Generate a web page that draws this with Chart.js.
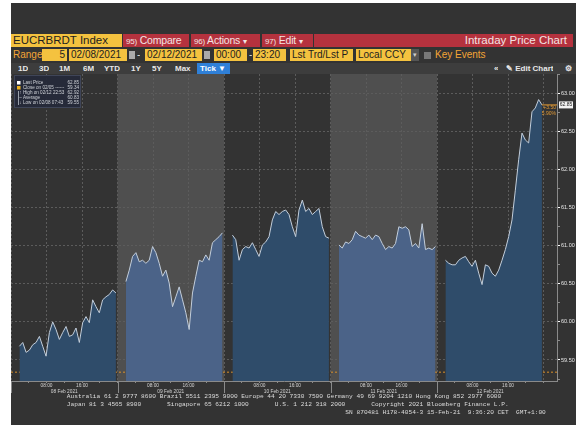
<!DOCTYPE html>
<html>
<head>
<meta charset="utf-8">
<script src="https://cdn.jsdelivr.net/npm/chart.js@4.4.1/dist/chart.umd.min.js"></script>
<style>
body{margin:0;background:#fff;width:576px;height:427px;overflow:hidden;position:relative;font-family:"Liberation Sans Narrow","Liberation Sans",Arial,sans-serif}
.a{position:absolute;box-sizing:border-box;white-space:nowrap;overflow:hidden}
#frame{left:11px;top:3px;width:565px;height:422px;background:#333}
.r1{top:34px;height:13px;line-height:13px;font-size:11.5px}
.red{background:#b5323e;color:#f3e4e4;padding-left:3px;font-size:10.5px;letter-spacing:-0.2px}
.red small{font-size:8px}
.r2{top:49px;height:12px;line-height:12px;font-size:10px}
.fld{background:#f4c23f;color:#1e1e1e;padding:0 2px}
.org{color:#f3a536}
.r3{top:63px;height:11px;line-height:11px;font-size:8px;font-weight:bold;color:#e8e8e8}
#foot{left:0;top:393px;width:576px;font-family:"Liberation Mono","DejaVu Sans Mono",monospace;font-size:6.2px;line-height:8px;color:#dcdcdc;white-space:pre}
#chartbox{position:absolute;left:11px;top:74px;width:565px;height:321px}
</style>
</head>
<body>
<div class="a" id="frame"></div>

<div class="a r1 fld" style="left:11px;width:111px;padding-left:2px">EUCRBRDT Index</div>
<div class="a r1 red" style="left:123px;width:66px"><small>95)</small> Compare</div>
<div class="a r1 red" style="left:191px;width:69px"><small>96)</small> Actions <small>▾</small></div>
<div class="a r1 red" style="left:262px;width:51px"><small>97)</small> Edit <small>▾</small></div>
<div class="a r1 red" style="left:314px;width:259px;text-align:right;padding-right:6px;font-size:11.5px;letter-spacing:0">Intraday Price Chart</div>

<div class="a r2 org" style="left:13px">Range</div>
<div class="a r2 fld" style="left:42px;width:25px;text-align:right">5</div>
<div class="a r2 fld" style="left:69px;width:58px">02/08/2021</div>
<div class="a r2" style="left:129px;top:51px;width:6px;height:8px;background:#aaa"></div>
<div class="a r2" style="left:137px;color:#ddd">-</div>
<div class="a r2 fld" style="left:145px;width:57px">02/12/2021</div>
<div class="a r2" style="left:204px;top:51px;width:6px;height:8px;background:#aaa"></div>
<div class="a r2 fld" style="left:214px;width:33px">00:00</div>
<div class="a r2" style="left:249px;color:#ddd">-</div>
<div class="a r2 fld" style="left:253px;width:33px">23:20</div>
<div class="a r2 fld" style="left:290px;width:63px">Lst Trd/Lst P</div>
<div class="a r2 fld" style="left:356px;width:55px">Local CCY</div>
<div class="a r2" style="left:411px;width:8px;background:#555;color:#ccc;font-size:7px;text-align:center">▾</div>
<div class="a r2" style="left:424px;top:52px;width:7px;height:7px;background:#777"></div>
<div class="a r2 org" style="left:435px">Key Events</div>

<div class="a" style="left:11px;top:63px;width:565px;height:11px;background:#3d3d3d"></div>
<div class="a r3" style="left:18px">1D</div>
<div class="a r3" style="left:39px">3D</div>
<div class="a r3" style="left:59px">1M</div>
<div class="a r3" style="left:83px">6M</div>
<div class="a r3" style="left:104px">YTD</div>
<div class="a r3" style="left:131px">1Y</div>
<div class="a r3" style="left:152px">5Y</div>
<div class="a r3" style="left:175px">Max</div>
<div class="a r3" style="left:197px;width:33px;background:#2f80d8;color:#fff;padding-left:3px">Tick ▼</div>
<div class="a r3" style="left:494px">«</div>
<div class="a r3" style="left:506px">✎ Edit Chart</div>
<div class="a r3" style="left:565px">⚙</div>

<div id="chartbox"><canvas id="myChart"></canvas></div>

<div class="a" id="foot">                  Australia 61 2 9777 8600 Brazil 5511 2395 9000 Europe 44 20 7330 7500 Germany 49 69 9204 1210 Hong Kong 852 2977 6000
                  Japan 81 3 4565 8900       Singapore 65 6212 1000       U.S. 1 212 318 2000       Copyright 2021 Bloomberg Finance L.P.
                                                                                             SN 870481 H178-4054-3 15-Feb-21  9:36:20 CET  GMT+1:00</div>

<script>
// 日付ラベル
var days = ['08 Feb 2021', '09 Feb 2021', '10 Feb 2021', '11 Feb 2021', '12 Feb 2021'];

// 各日の価格（01:54 から 45分おきに読み取り）
var feb08 = [59.68, 59.73, 59.60, 59.63, 59.70, 59.73, 59.81, 59.68, 59.55, 59.86, 60.00, 59.90, 59.77, 59.86, 59.94,
             59.81, 59.83, 59.92, 59.73, 59.99, 60.07, 59.99, 60.29, 60.20, 60.12, 60.29, 60.33, 60.36, 60.42, 60.38];
var feb09 = [60.53, 60.68, 60.86, 60.91, 60.79, 60.81, 60.77, 60.81, 60.99, 60.91, 60.77, 60.60, 60.68, 60.51, 60.20,
             60.33, 60.46, 60.29, 60.12, 59.90, 60.38, 60.60, 60.81, 60.79, 60.88, 60.81, 61.04, 61.08, 61.12, 61.17];
var feb10 = [61.14, 61.08, 60.81, 60.95, 60.99, 60.97, 61.04, 60.95, 60.86, 61.01, 61.05, 61.12, 61.34, 61.45, 61.41,
             61.45, 61.47, 61.41, 61.25, 61.12, 61.47, 61.60, 61.45, 61.49, 61.41, 61.45, 61.49, 61.25, 61.12, 61.10];
var feb11 = [61.01, 60.97, 61.05, 61.03, 61.08, 61.19, 61.14, 61.12, 61.10, 61.14, 61.08, 61.14, 61.12, 61.03, 60.95,
             60.99, 60.97, 61.03, 61.25, 61.23, 61.25, 61.21, 60.99, 61.03, 60.97, 61.29, 60.95, 60.97, 60.95, 60.99];
var feb12 = [60.81, 60.77, 60.75, 60.75, 60.81, 60.84, 60.86, 60.79, 60.73, 60.81, 60.64, 60.49, 60.75, 60.73, 60.64,
             60.60, 60.68, 60.81, 60.95, 61.12, 61.34, 61.73, 62.13, 62.48, 62.39, 62.35, 62.76, 62.81, 62.92, 62.85];
var sampleStart = 1.9;   // 時
var sampleStep = 0.75;   // 時

// 凡例の値
var lastPrice = 62.85;
var prevClose = 59.34;
var highPrice = 62.92;
var avgPrice = 60.83;
var lowPrice = 59.55;
var netChange = '+3.50';
var pctChange = '5.90%';

// 軸の範囲（時間は 02/08 00:00 からの経過時間）
var xMax = 123.04;
var yMin = 59.224;
var yMax = 63.256;

var series = [feb08, feb09, feb10, feb11, feb12];
var fillColors = ['#2f4c6a', '#4b6388'];

var datasets = series.map(function(vals, d) {
  return {
    data: vals.map(function(v, i) { return {x: d * 24 + sampleStart + i * sampleStep, y: v}; }),
    borderColor: '#c3cedb',
    borderWidth: 1,
    backgroundColor: fillColors[d % 2],
    fill: 'start',
    pointRadius: 0,
    tension: 0
  };
});
// 前日終値ライン
datasets.push({
  data: [{x: 0, y: prevClose}, {x: xMax, y: prevClose}],
  borderColor: '#d98f2b',
  borderWidth: 1,
  borderDash: [2, 2],
  pointRadius: 0,
  fill: false
});

function isMajor(v) {
  return Math.abs(v * 2 - Math.round(v * 2)) < 1e-6;
}

function noPad(s) {
  s.paddingTop = 0; s.paddingBottom = 0; s.paddingLeft = 0; s.paddingRight = 0;
}

// 背景の帯と注記を描くプラグイン
var bbgPlugin = {
  id: 'bbg',
  beforeDraw: function(chart) {
    var c = chart.ctx, a = chart.chartArea, xs = chart.scales.x;
    c.save();
    c.fillStyle = '#4f4f4f';
    [1, 3].forEach(function(d) {
      var x0 = xs.getPixelForValue(d * 24), x1 = xs.getPixelForValue(d * 24 + 24);
      c.fillRect(x0, a.top, x1 - x0, a.bottom - a.top);
    });
    c.restore();
  },
  afterDraw: function(chart) {
    var c = chart.ctx, a = chart.chartArea, xs = chart.scales.x, ys = chart.scales.y;
    c.save();
    // 日の区切り
    c.strokeStyle = '#8a8a8a';
    c.lineWidth = 1;
    for (var k = 0; k < 5; k++) {
      var xp = Math.round(xs.getPixelForValue(k * 24)) + 0.5;
      c.beginPath(); c.moveTo(xp, a.bottom); c.lineTo(xp, a.bottom + 12); c.stroke();
    }
    // 最終値ライン
    var lastX = 4 * 24 + sampleStart + (feb12.length - 1) * sampleStep;
    var yl = ys.getPixelForValue(lastPrice);
    c.strokeStyle = '#e29a35';
    c.beginPath(); c.moveTo(xs.getPixelForValue(lastX), yl); c.lineTo(a.right, yl); c.stroke();
    c.fillStyle = '#f2f2f2';
    c.fillRect(a.right + 2, yl - 3.5, 14, 7);
    c.font = '5px "Liberation Sans"';
    c.textBaseline = 'middle';
    c.textAlign = 'center';
    c.fillStyle = '#222';
    c.fillText(lastPrice.toFixed(2), a.right + 9, yl);
    c.textAlign = 'right';
    c.fillStyle = '#e29a35';
    c.fillText(netChange, a.right - 1, yl + 2.5);
    c.fillText(pctChange, a.right - 1, yl + 8.5);

    // 凡例
    c.fillStyle = 'rgba(38,42,58,0.95)';
    c.fillRect(3, 1, 67, 33);
    c.strokeStyle = '#3f4558';
    c.strokeRect(3.5, 1.5, 66, 32);
    var rows = [
      ['Last Price', lastPrice],
      ['Close on 02/05 ------', prevClose],
      ['High on 02/12 22:53', highPrice],
      ['Average', avgPrice],
      ['Low on 02/08 07:43', lowPrice]
    ];
    c.font = '4.6px "Liberation Sans"';
    rows.forEach(function(r, i) {
      var yy = 8.5 + i * 5;
      c.fillStyle = '#cfd2d8';
      c.textAlign = 'left';
      c.fillText(r[0], 12, yy);
      c.textAlign = 'right';
      c.fillText(r[1].toFixed(2), 68, yy);
    });
    c.fillStyle = '#ffffff';
    c.fillRect(6, 7, 3.5, 3.5);
    c.fillStyle = '#f0b31c';
    c.fillRect(6, 12, 3.5, 3.5);
    c.strokeStyle = '#9aa0aa';
    c.beginPath(); c.moveTo(7.5, 17); c.lineTo(7.5, 31); c.stroke();
    c.fillStyle = '#cfd2d8';
    c.textAlign = 'center';
    c.fillText('↑', 9.5, 18.5);
    c.fillText('–', 9.5, 23.5);
    c.fillText('↓', 9.5, 28.5);
    c.restore();
  }
};

var ctx = document.getElementById('myChart');
var myChart = new Chart(ctx, {
  type: 'line',
  data: {datasets: datasets},
  options: {
    responsive: true,
    maintainAspectRatio: false,
    animation: false,
    layout: {padding: 0},
    plugins: {legend: {display: false}, tooltip: {enabled: false}},
    scales: {
      x: {
        type: 'linear',
        min: 0,
        max: xMax,
        afterFit: function(s) { s.height = 14; noPad(s); },
        grid: {
          color: function(c) { return c.tick && c.tick.value % 8 === 0 ? '#5c5c5c' : 'rgba(0,0,0,0)'; },
          tickColor: '#8a8a8a',
          tickLength: 2
        },
        border: {color: '#8a8a8a', dash: [2, 2]},
        ticks: {
          stepSize: 4,
          includeBounds: false,
          autoSkip: false,
          maxRotation: 0,
          padding: 0,
          color: '#d4d4d4',
          font: {size: 4.8, family: 'Liberation Sans'},
          callback: function(v) {
            var h = v % 24;
            if (h === 8) return '08:00';
            if (h === 16) return '16:00';
            if (h === 12) return ['', days[Math.floor(v / 24)]];
            return '';
          }
        }
      },
      y: {
        position: 'right',
        min: yMin,
        max: yMax,
        afterFit: function(s) { s.width = 19; noPad(s); },
        grid: {
          color: function(c) { return c.tick && isMajor(c.tick.value) ? '#5c5c5c' : 'rgba(0,0,0,0)'; },
          tickColor: function(c) { return c.tick && isMajor(c.tick.value) ? '#ffffff' : '#8a8a8a'; },
          tickLength: 3
        },
        border: {color: '#8a8a8a', dash: [2, 2]},
        ticks: {
          stepSize: 0.25,
          includeBounds: false,
          padding: 1,
          color: '#e6e6e6',
          font: {size: 5.5, family: 'Liberation Sans'},
          callback: function(v) { return isMajor(v) ? v.toFixed(2) : ''; }
        }
      }
    }
  },
  plugins: [bbgPlugin]
});
</script>
</body>
</html>
